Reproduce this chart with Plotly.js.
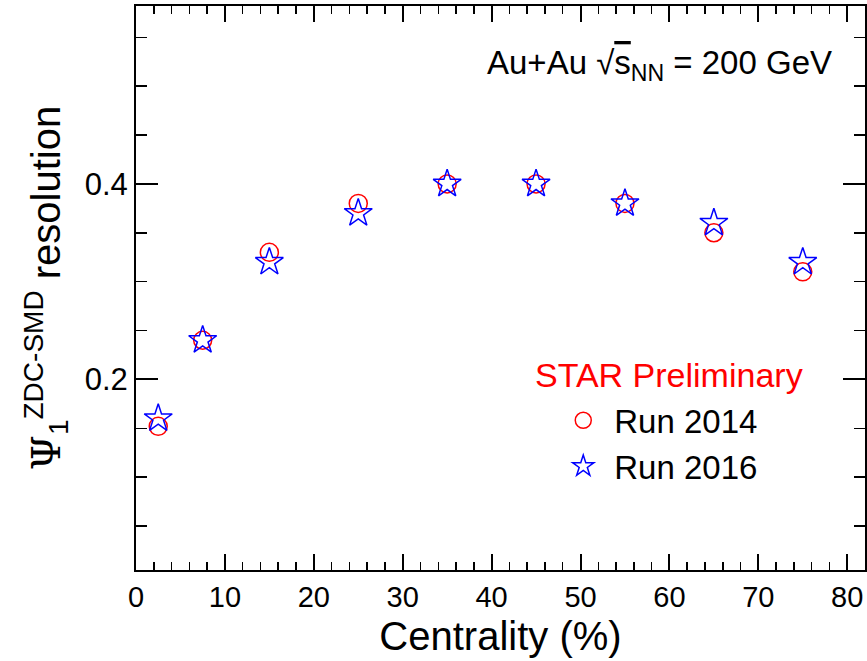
<!DOCTYPE html>
<html><head><meta charset="utf-8">
<script src="https://cdn.plot.ly/plotly-3.0.1.min.js"></script>
<style>body{margin:0;background:#fff}#c{width:867px;height:661px}</style>
</head><body><div id="c"></div>
<script>
const centrality = [2.5, 7.5, 15, 25, 35, 45, 55, 65, 75];
const run2014 = [0.152, 0.24, 0.33, 0.38, 0.40, 0.40, 0.38, 0.35, 0.31];
const run2016 = [0.160, 0.24, 0.32, 0.37, 0.40, 0.40, 0.38, 0.36, 0.32];
const seriesNames = ['Run 2014', 'Run 2016'];

const F = 'Liberation Sans, Arial, Helvetica, sans-serif';
const traces = [
  {x: centrality, y: run2014, name: seriesNames[0], type: 'scatter', mode: 'markers',
   marker: {symbol: 'circle-open', size: 18, color: '#ff0000', line: {width: 1.5, color: '#ff0000'}}},
  {x: centrality, y: run2016, name: seriesNames[1], type: 'scatter', mode: 'markers',
   marker: {symbol: 'star-open', size: 21, color: '#0000ff', line: {width: 1.5, color: '#0000ff'}}}
];
const axisBase = {showline: true, linecolor: '#000', linewidth: 2, mirror: 'ticks', ticks: 'inside',
  showgrid: false, zeroline: false, tickcolor: '#000', tickwidth: 2};
const layout = {
  width: 867, height: 661,
  margin: {l: 136, r: 2, t: 6, b: 91},
  paper_bgcolor: '#fff', plot_bgcolor: '#fff',
  font: {family: F, color: '#000'},
  showlegend: true,
  legend: {x: 0.571, y: 0.315, xanchor: 'left', yanchor: 'top', bgcolor: 'rgba(0,0,0,0)',
    font: {family: F, size: 33, color: '#000'}, itemwidth: 52, tracegroupgap: 0},
  xaxis: Object.assign({}, axisBase, {range: [0, 82], dtick: 10, tick0: 0, ticklen: 16,
    minor: {dtick: 2, ticklen: 8, ticks: 'inside', tickcolor: '#000', tickwidth: 1.5, showgrid: false},
    tickfont: {family: F, size: 29},
    title: {text: 'Centrality (%)', font: {family: F, size: 40}, standoff: 10}}),
  yaxis: Object.assign({}, axisBase, {range: [0.005, 0.582], dtick: 0.2, tick0: 0, ticklen: 22,
    minor: {dtick: 0.05, ticklen: 11, ticks: 'inside', tickcolor: '#000', tickwidth: 1.5, showgrid: false},
    tickfont: {family: F, size: 31},
    title: {text: '<span style="font-family:DejaVu Serif">Ψ</span><sub>1</sub><sup>ZDC-SMD</sup> resolution',
      font: {family: F, size: 40}, standoff: 12}}),
  annotations: [
    {xref: 'paper', yref: 'paper', x: 0.958, y: 0.895, xanchor: 'right', yanchor: 'middle',
     showarrow: false, font: {family: F, size: 33, color: '#000'},
     text: 'Au+Au √<span style="text-decoration:overline">s</span><sub>NN</sub> = 200 GeV'},
    {xref: 'paper', yref: 'paper', x: 0.731, y: 0.346, xanchor: 'center', yanchor: 'middle',
     showarrow: false, font: {family: F, size: 34, color: '#ff0000'}, text: 'STAR Preliminary'}
  ]
};
Plotly.newPlot('c', traces, layout, {displayModeBar: false, staticPlot: true});
</script></body></html>
